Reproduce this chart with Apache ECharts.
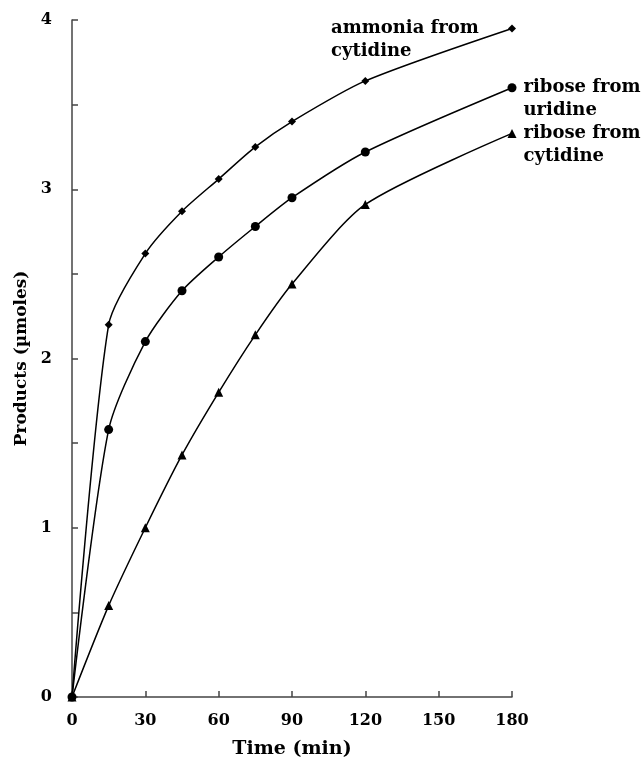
<!DOCTYPE html>
<html>
<head>
<meta charset="utf-8">
<script src="https://cdn.jsdelivr.net/npm/echarts@6/dist/echarts.min.js"></script>
<style>
html,body{margin:0;padding:0;background:#fff;}
#c{width:642px;height:765px;}
</style>
</head>
<body>
<div id="c"></div>
<script>
var times = [0, 15, 30, 45, 60, 75, 90, 120, 180];
var ammoniaCytidine = [0, 2.2, 2.62, 2.87, 3.06, 3.25, 3.40, 3.64, 3.95];
var riboseUridine = [0, 1.58, 2.10, 2.40, 2.60, 2.78, 2.95, 3.22, 3.60];
var riboseCytidine = [0, 0.54, 1.00, 1.43, 1.80, 2.14, 2.44, 2.91, 3.33];
var seriesNames = ['ammonia from\ncytidine', 'ribose from\nuridine', 'ribose from\ncytidine'];
var xTicks = [0, 30, 60, 90, 120, 150, 180];
var yTickLabels = [0, 1, 2, 3, 4];

var FONT = 'DejaVu Serif';

function pairs(vals) {
  return times.map(function (t, i) { return [t, vals[i]]; });
}
function withEndLabel(vals, labelOpt) {
  var d = pairs(vals);
  var last = d.length - 1;
  d[last] = { value: d[last], label: Object.assign({
    show: true,
    formatter: function (p) { return p.seriesName; },
    color: '#000',
    fontFamily: FONT,
    fontWeight: 'bold',
    fontSize: 18,
    lineHeight: 23
  }, labelOpt) };
  return d;
}

var chart = echarts.init(document.getElementById('c'), null, { renderer: 'canvas' });
chart.setOption({
  backgroundColor: '#fff',
  animation: false,
  grid: { left: 72, right: 130, top: 20, bottom: 68, containLabel: false },
  xAxis: {
    type: 'value',
    min: 0, max: 180, interval: 30,
    name: 'Time (min)',
    nameLocation: 'middle',
    nameGap: 43,
    nameTextStyle: { color: '#000', fontFamily: FONT, fontWeight: 'bold', fontSize: 19 },
    axisLine: { show: true, onZero: false, lineStyle: { color: '#444', width: 1.5 } },
    axisTick: { show: true, inside: true, length: 6, lineStyle: { color: '#444', width: 1.5 } },
    axisLabel: {
      color: '#000', fontFamily: FONT, fontWeight: 'bold', fontSize: 16, margin: 16,
      formatter: function (v) { return xTicks.indexOf(v) >= 0 ? String(v) : ''; }
    },
    splitLine: { show: false }
  },
  yAxis: {
    type: 'value',
    min: 0, max: 4, interval: 0.5,
    name: 'Products (µmoles)',
    nameLocation: 'middle',
    nameGap: 41,
    nameTextStyle: { color: '#000', fontFamily: FONT, fontWeight: 'bold', fontSize: 17 },
    axisLine: { show: true, onZero: false, lineStyle: { color: '#444', width: 1.5 } },
    axisTick: { show: true, inside: true, length: 6, lineStyle: { color: '#444', width: 1.5 } },
    axisLabel: {
      color: '#000', fontFamily: FONT, fontWeight: 'bold', fontSize: 16, margin: 20,
      formatter: function (v) { return yTickLabels.indexOf(v) >= 0 ? String(v) : ''; }
    },
    splitLine: { show: false }
  },
  series: [
    {
      name: seriesNames[0],
      type: 'line',
      smooth: 0.25,
      symbol: 'diamond',
      symbolSize: 8,
      lineStyle: { color: '#000', width: 1.5 },
      itemStyle: { color: '#000' },
      data: withEndLabel(ammoniaCytidine, { position: 'left', distance: 0, align: 'left', verticalAlign: 'middle', offset: [-177, 11.5] })
    },
    {
      name: seriesNames[1],
      type: 'line',
      smooth: 0.25,
      symbol: 'circle',
      symbolSize: 9,
      lineStyle: { color: '#000', width: 1.5 },
      itemStyle: { color: '#000' },
      data: withEndLabel(riboseUridine, { position: 'right', distance: 7, align: 'left', verticalAlign: 'middle', offset: [0, 11.5] })
    },
    {
      name: seriesNames[2],
      type: 'line',
      smooth: 0.25,
      symbol: 'triangle',
      symbolSize: 9,
      lineStyle: { color: '#000', width: 1.5 },
      itemStyle: { color: '#000' },
      data: withEndLabel(riboseCytidine, { position: 'right', distance: 7, align: 'left', verticalAlign: 'middle', offset: [0, 11.5] })
    }
  ]
});
</script>
</body>
</html>
